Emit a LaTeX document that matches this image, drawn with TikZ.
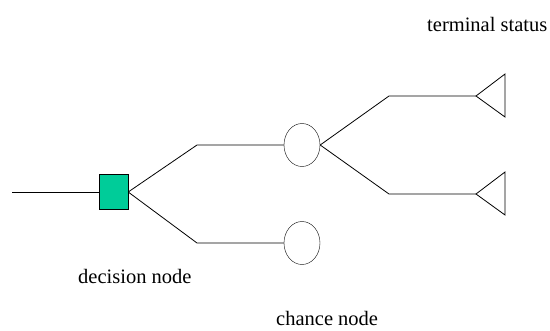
\documentclass[tikz,border=0pt]{standalone}
\usepackage{fontspec}
\setmainfont{Liberation Serif}
\usepackage{xcolor}
\usetikzlibrary{shapes.geometric}
\definecolor{decisiongreen}{RGB}{0,204,153}

\tikzset{
  decisionbox/.style={draw, fill=decisiongreen, minimum width=29pt, minimum height=35pt, inner sep=0pt},
  chancenode/.style={draw, ellipse, minimum width=36pt, minimum height=43pt, inner sep=0pt},
  branch/.style={line width=0.8pt},
  captiontext/.style={anchor=base west, inner sep=0pt, font=\fontsize{20.5}{24}\selectfont}
}

\begin{document}
\begin{tikzpicture}[x=1pt,y=-1pt]
        \useasboundingbox (0,0) rectangle (550,330);
        % Draw the decision node and the incoming line
        \node[decisionbox] (dec) at (113.5,192) {};
        \coordinate (start) at (12,192);
        \draw[branch] (start) -- (dec.west);
        % Draw the chance nodes
        \node[chancenode] (ch1) at (302,145) {};
        \node[chancenode] (ch2) at (302,243) {};
        % Bend points of the branches
        \coordinate (b1) at (197,145);
        \coordinate (b2) at (197,243);
        \coordinate (b3) at (389,96);
        \coordinate (b4) at (389,194);
        % Tips of the terminal triangles
        \coordinate (t1) at (476,96);
        \coordinate (t2) at (476,194);
        % Draw the branches
        \draw[branch] (dec.east) -- (b1) -- (ch1.west);
        \draw[branch] (dec.east) -- (b2) -- (ch2.west);
        \draw[branch] (ch1.east) -- (b3) -- (t1);
        \draw[branch] (ch1.east) -- (b4) -- (t2);
        % Draw the terminal triangles
        \foreach \t in {t1, t2} {
            \draw[branch] (\t) -- ++(29,-22) -- ++(0,43) -- cycle;
        }
        % Label the nodes
        \node[captiontext] (termtext) at (427,31) {terminal status};
        \node[captiontext] (dectext) at (78,283) {decision node};
        \node[captiontext] (chtext) at (276,325) {chance node};
    \end{tikzpicture}
\end{document}
